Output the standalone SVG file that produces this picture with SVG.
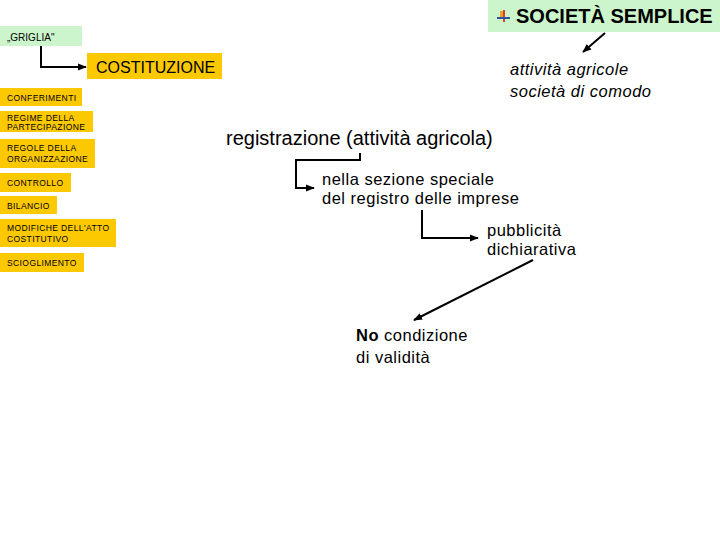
<svg xmlns="http://www.w3.org/2000/svg" width="720" height="540" viewBox="0 0 720 540">
<defs>
<style>
.t{font-family:"Liberation Sans",Arial,sans-serif;fill:#000}
.m{font-size:16.5px;letter-spacing:0.5px}
.g{fill:#ccf5cc}
.o{fill:#fcc800}
.s{font-family:"Liberation Sans",Arial,sans-serif;font-size:8.5px;letter-spacing:0.4px;fill:#000}
.c{stroke:#000;stroke-width:2;fill:none}
</style>
<marker id="ah" viewBox="0 0 10 10" refX="9" refY="5" markerWidth="4.5" markerHeight="4.5" orient="auto" markerUnits="strokeWidth">
<path d="M0,1 L10,5 L0,9 z" fill="#000"/>
</marker>
</defs>
<rect width="720" height="540" fill="#fff"/>
<g id="societa">
<rect class="g" x="488" y="0" width="232" height="32"/>
<g id="icon">
<rect x="500" y="11" width="4" height="7" fill="#f0a020"/>
<rect x="503" y="10" width="2" height="12" fill="#d04040"/>
<rect x="497" y="17" width="13" height="2" fill="#3050a0"/>
</g>
<text class="t" x="516" y="23" font-size="20" font-weight="bold">SOCIETÀ SEMPLICE</text>
</g>
<g id="griglia">
<rect class="g" x="0" y="26" width="82" height="20"/>
<text class="t" x="7" y="41" font-size="10">„GRIGLIA"</text>
</g>
<g id="costituzione">
<rect class="o" x="87" y="53" width="135" height="26"/>
<text class="t" x="96" y="73" font-size="16">COSTITUZIONE</text>
</g>
<g id="attivita">
<text class="t m" x="510" y="75" font-style="italic">attività agricole</text>
<text class="t m" x="510" y="97" font-style="italic">società di comodo</text>
</g>
<g id="conferimenti">
<rect class="o" x="0" y="88" width="82" height="18"/>
<text class="s" x="7" y="101">CONFERIMENTI</text>
</g>
<g id="regime">
<rect class="o" x="0" y="111" width="93" height="21"/>
<text class="s" x="7" y="121">REGIME DELLA</text>
<text class="s" x="7" y="130">PARTECIPAZIONE</text>
</g>
<g id="regole">
<rect class="o" x="0" y="139" width="95" height="29"/>
<text class="s" x="7" y="151">REGOLE DELLA</text>
<text class="s" x="7" y="162">ORGANIZZAZIONE</text>
</g>
<g id="controllo">
<rect class="o" x="0" y="173" width="71" height="19"/>
<text class="s" x="7" y="186">CONTROLLO</text>
</g>
<g id="bilancio">
<rect class="o" x="0" y="196" width="57" height="18"/>
<text class="s" x="7" y="209">BILANCIO</text>
</g>
<g id="modifiche">
<rect class="o" x="0" y="219" width="116" height="28"/>
<text class="s" x="7" y="231">MODIFICHE DELL'ATTO</text>
<text class="s" x="7" y="242">COSTITUTIVO</text>
</g>
<g id="scioglimento">
<rect class="o" x="0" y="253" width="84" height="19"/>
<text class="s" x="7" y="266">SCIOGLIMENTO</text>
</g>
<g id="registrazione">
<text class="t" x="226" y="145" font-size="20">registrazione (attività agricola)</text>
</g>
<g id="sezione">
<text class="t m" x="322" y="185">nella sezione speciale</text>
<text class="t m" x="322" y="204">del registro delle imprese</text>
</g>
<g id="pubblicita">
<text class="t m" x="487" y="236">pubblicità</text>
<text class="t m" x="487" y="255">dichiarativa</text>
</g>
<g id="validita">
<text class="t m" x="356" y="341"><tspan font-weight="bold">No</tspan> condizione</text>
<text class="t m" x="356" y="363">di validità</text>
</g>
<g id="connectors">
<path class="c" d="M41,46 V67 H86" marker-end="url(#ah)"/>
<path class="c" d="M605,33 L583,52" marker-end="url(#ah)"/>
<path class="c" d="M360,153 V160 H296 V188 H314" marker-end="url(#ah)"/>
<path class="c" d="M422,210 V238 H478" marker-end="url(#ah)"/>
<path class="c" d="M533,260 L414,320" marker-end="url(#ah)"/>
</g>
</svg>
